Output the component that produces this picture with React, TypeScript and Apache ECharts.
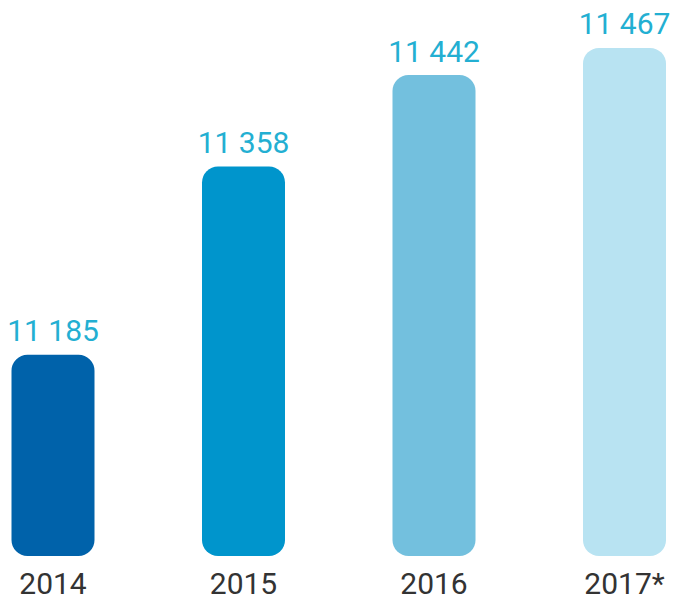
import React, { useEffect, useRef } from "react";
import * as echarts from "echarts";

const categories = ["2014", "2015", "2016", "2017*"];
const values = [11185, 11358, 11442, 11467];
const barColors = ["#0062AA", "#0095CC", "#73C0DE", "#B8E3F2"];
const valueLabels = ["11 185", "11 358", "11 442", "11 467"];
const baseValue = 11000;

export default function App() {
  const ref = useRef<HTMLDivElement>(null);
  useEffect(() => {
    if (!ref.current) return;
    const chart = echarts.init(ref.current, undefined, { renderer: "svg" });
    chart.setOption({
      animation: false,
      backgroundColor: "#ffffff",
      grid: { left: 53, right: 50.5, top: 12, bottom: 55, containLabel: false },
      xAxis: {
        type: "category",
        data: categories,
        boundaryGap: false,
        axisLine: { show: false },
        axisTick: { show: false },
        axisLabel: {
          color: "#333333",
          fontFamily: "Roboto",
          fontSize: 30,
          margin: 12,
        },
      },
      yAxis: {
        type: "value",
        min: baseValue,
        max: 11500,
        show: false,
        splitLine: { show: false },
      },
      series: [
        {
          type: "custom",
          data: values.map((v, i) => [i, v]),
          renderItem: (params: any, api: any) => {
            const idx = params.dataIndex;
            const top = api.coord([api.value(0), api.value(1)]);
            const bottom = api.coord([api.value(0), baseValue]);
            const w = 83;
            return {
              type: "group",
              children: [
                {
                  type: "rect",
                  shape: {
                    x: top[0] - w / 2,
                    y: top[1],
                    width: w,
                    height: bottom[1] - top[1],
                    r: 16,
                  },
                  style: { fill: barColors[idx] },
                },
                {
                  type: "text",
                  x: top[0],
                  y: top[1] - 9,
                  style: {
                    text: valueLabels[idx],
                    fill: "#23AFD2",
                    fontFamily: "Roboto",
                    fontSize: 30,
                    align: "center",
                    verticalAlign: "bottom",
                  },
                },
              ],
            };
          },
        },
      ],
    });
    return () => chart.dispose();
  }, []);
  return (
    <div
      ref={ref}
      style={{ position: "absolute", left: 0, top: 0, width: 675, height: 611 }}
    />
  );
}
